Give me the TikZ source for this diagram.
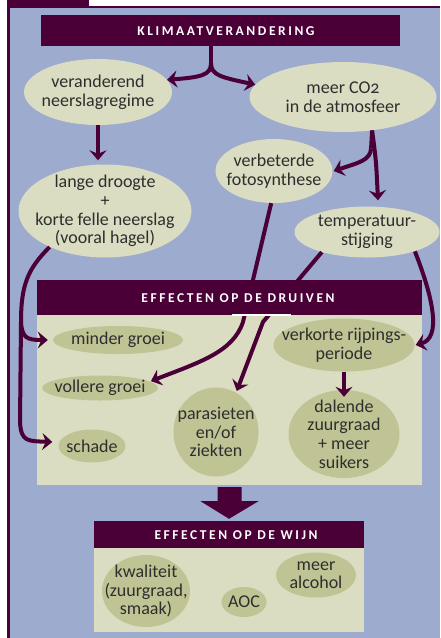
\documentclass[tikz,border=0pt]{standalone}
\usepackage{fontspec}
\setmainfont{Carlito}
\usetikzlibrary{shapes.geometric,arrows.meta,calc}
\definecolor{purp}{HTML}{4A0037}
\definecolor{bluebg}{HTML}{9DABCF}
\definecolor{lightel}{HTML}{DADDC1}
\definecolor{olive}{HTML}{C0C494}
\definecolor{txt}{HTML}{2E2E2E}
\begin{document}
\begin{tikzpicture}[x=1pt,y=-1pt,
  el/.style={ellipse, fill=lightel, inner sep=0pt},
  ol/.style={el, fill=olive},
  eltext/.style={inner sep=0pt, align=center, text=txt,
    font=\fontsize{18}{18.6}\selectfont},
  arr/.style={draw=purp, line width=4pt, line cap=butt,
    -{Stealth[length=10pt,width=17pt,inset=3.5pt]}},
  trunk/.style={draw=purp, line width=4pt},
  hdrbox/.style={rectangle, fill=purp, inner sep=0pt},
  hdrtext/.style={text=white, inner sep=0pt,
    font=\fontsize{13.5}{14}\selectfont\bfseries\addfontfeatures{LetterSpace=19}},
  body/.style={rectangle, fill=lightel, inner sep=0pt}]
\useasboundingbox (0,0) rectangle (440,638);
% frame
\fill[white] (0,0) rectangle (440,638);
\fill[bluebg] (10,8) rectangle (440,638);
\fill[purp] (7,0) rectangle (89,7);
\fill[purp] (7,6) rectangle (440,8);
\fill[purp] (7,6) rectangle (10,638);

% boxes
\node[hdrbox, minimum width=359pt, minimum height=31pt] (klim) at (220.5,30.5) {};
\node[hdrtext] (klimt) at (226,31) {KLIMAATVERANDERING};
\node[body, minimum width=385pt, minimum height=170pt] (druiven) at (229.5,400) {};
\node[body, minimum width=270pt, minimum height=84pt] (wijn) at (229,590) {};
\node[hdrbox, minimum width=270pt, minimum height=27pt] (wijnh) at (229,534.5) {};
\node[hdrtext] (wijnt) at (236,535) {EFFECTEN OP DE WIJN};

% top ellipses
\node[el, minimum width=148pt, minimum height=66pt] (ver) at (98,92) {};
\node[eltext] (vert) at (ver) {veranderend\\neerslagregime};
\node[el, minimum width=187pt, minimum height=70pt] (co2) at (343,97) {};
\node[eltext] (co2t) at (co2) {meer CO{\addfontfeatures{Numbers=OldStyle}2}\\in de atmosfeer};
\node[el, minimum width=173pt, minimum height=93pt] (lange) at (105,211) {};
\node[eltext] (langet) at (lange) {lange droogte\\+\\korte felle neerslag\\(vooral hagel)};
\node[el, minimum width=117pt, minimum height=64pt] (foto) at (274,171) {};
\node[eltext] (fotot) at (foto) {verbeterde\\fotosynthese};
\node[el, minimum width=145pt, minimum height=51pt] (temp) at (367,232) {};
\node[eltext] (tempt) at (temp) {temperatuur-\\stijging};

% druiven ellipses
\node[ol, minimum width=130pt, minimum height=28pt] (minder) at (118,340) {};
\node[eltext] (mindert) at (minder) {minder groei};
\node[ol, minimum width=116pt, minimum height=25pt] (vollere) at (100,388) {};
\node[eltext] (volleret) at (vollere) {vollere groei};
\node[ol, minimum width=67pt, minimum height=33pt] (schade) at (92,446) {};
\node[eltext] (schadet) at (schade) {schade};
\node[ol, minimum width=85pt, minimum height=89pt] (paras) at (216,432) {};
\node[eltext] (parast) at (paras) {parasieten\\en/of\\ziekten};
\node[ol, minimum width=141pt, minimum height=53pt] (verk) at (344,345) {};
\node[eltext] (verkt) at (verk) {verkorte rijpings-\\periode};
\node[ol, minimum width=111pt, minimum height=88pt] (dal) at (344,434) {};
\node[eltext] (dalt) at (dal) {dalende\\zuurgraad\\+ meer\\suikers};

% wijn ellipses
\node[ol, minimum width=88pt, minimum height=72pt] (kwal) at (146,591) {};
\node[eltext] (kwalt) at (kwal) {kwaliteit\\(zuurgraad,\\smaak)};
\node[ol, minimum width=45pt, minimum height=30pt] (aoc) at (244,602) {};
\node[eltext] (aoct) at (aoc) {AOC};
\node[ol, minimum width=80pt, minimum height=45pt] (alc) at (316,575) {};
\node[eltext] (alct) at (alc) {meer\\alcohol};

% arrows top
\coordinate (ks) at ([xshift=-9.5pt]klim.south);
\coordinate (kj) at ($(ks)+(0,17)$);
\draw[trunk] (ks) -- (kj);
\draw[arr] (kj) .. controls ($(kj)+(0,12)$) and ($(kj)+(-10,14)$) .. (ver.10);
\draw[arr] (kj) .. controls ($(kj)+(0,12)$) and ($(kj)+(10,14)$) .. (co2.172);
\draw[arr] (ver.south) -- ($(ver.south |- lange.north)+(0,-4)$);

\coordinate (cj) at ($(co2.-49)+(-1,18)$);
\draw[trunk] (co2.-49) -- (cj);
\draw[arr] (cj) .. controls ($(cj)+(-1,12)$) and ($(cj)+(-12,14)$) .. ([xshift=1pt]foto.east);
\draw[arr] (co2.-49) .. controls ($(co2.-49)+(4,30)$) .. ([xshift=11pt,yshift=6pt]temp.north);

% left trunk
\coordinate (lj1) at (21,322);
\coordinate (lj2) at (20,422);
\draw[trunk] (lange.213) .. controls ($(lange.213)+(-22,22)$) and (21,285) .. (lj1) -- (lj2);
\draw[arr] (lj1) .. controls ($(lj1)+(1,16)$) and ($(lj1)+(6,18)$) .. ([xshift=-5pt]minder.west);
\draw[arr] (lj2) .. controls ($(lj2)+(1,20)$) and ($(lj2)+(8,19)$) .. ([xshift=-6pt,yshift=4pt]schade.west);

% right trunk
\draw[arr] (temp.-22) .. controls (434,300) and (441,338) .. ([xshift=1pt]verk.east);

% lines into druiven
\draw[arr] (foto.265) -- (243,322) .. controls (233,352) and (200,362) .. ([xshift=2pt]vollere.8);
\draw[arr] (temp.204) -- (263,322) -- ([yshift=2pt]paras.62);
\draw[arr] (verk.south) -- ([yshift=-7pt]dal.north);

% druiven header on top
\node[hdrbox, minimum width=385pt, minimum height=35pt] (druivenh) at (229.5,297.5) {};
\node[hdrtext] (druivent) at (238,298) {EFFECTEN OP DE DRUIVEN};
\fill[white] (232,314) rectangle (291,315.5);

% block arrow
\fill[purp] ($(druiven.south)+(-12,2)$) -- ($(druiven.south)+(12,2)$) -- ($(druiven.south)+(12,16)$)
  -- ($(druiven.south)+(29,16)$) -- ($(wijnh.north)+(0,-2)$) -- ($(druiven.south)+(-29,16)$)
  -- ($(druiven.south)+(-12,16)$) -- cycle;
\end{tikzpicture}
\end{document}
